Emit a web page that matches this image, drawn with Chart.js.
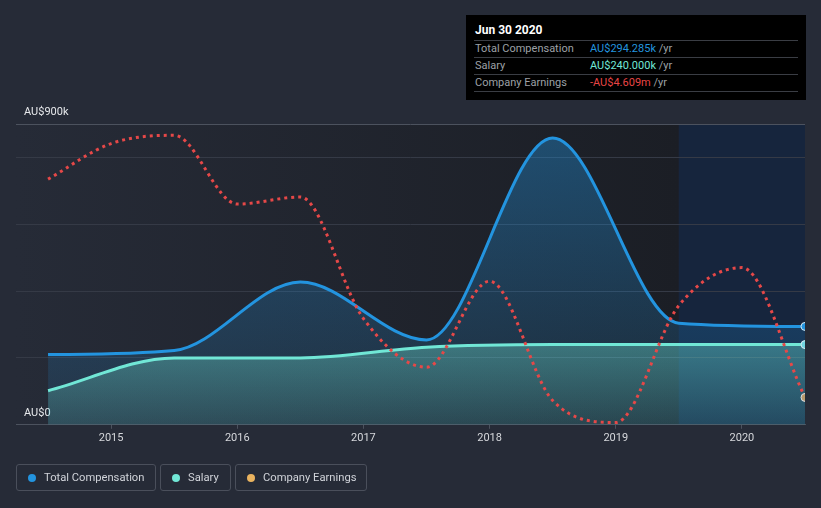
<!DOCTYPE html>
<html>
<head>
<meta charset="utf-8">
<script src="https://cdn.jsdelivr.net/npm/chart.js@4"></script>
<style>
  html, body { margin: 0; padding: 0; background: #262b37; }
  body { width: 821px; height: 508px; position: relative; overflow: hidden; font-family: Roboto, "Noto Sans", Arial, sans-serif; }
  #c { position: absolute; left: 0; top: 0; }
  .tip { position: absolute; left: 466px; top: 15px; width: 340px; height: 85px; background: #000; }
  .tip .title { position: absolute; left: 9px; top: 8px; font-size: 12px; font-weight: bold; color: #fff; }
  .tip .row { position: absolute; left: 8px; width: 324px; height: 17px; border-top: 1px solid #3a3d44; font-size: 11px; line-height: 16px; color: #9da0a6; }
  .tip .row .lab { position: absolute; left: 1px; }
  .tip .row .val { position: absolute; left: 116px; }
  .tip .last { position: absolute; left: 8px; width: 324px; top: 76px; border-top: 1px solid #3a3d44; }
  .legend { position: absolute; top: 464px; height: 27px; border: 1px solid #4a4f5b; border-radius: 3px; font-size: 11.2px; color: #d0d3d9; line-height: 25px; box-sizing: border-box; }
  .legend .dot { position: absolute; left: 11px; top: 9px; width: 8px; height: 8px; border-radius: 50%; }
  .legend .txt { position: absolute; left: 27px; top: 0; white-space: nowrap; }
</style>
</head>
<body>
<canvas id="c" width="821" height="508"></canvas>

<div class="tip">
  <div class="title">Jun 30 2020</div>
  <div class="row" style="top:25px"><span class="lab">Total Compensation</span><span class="val"><span style="color:#2394df">AU$294.285k</span> /yr</span></div>
  <div class="row" style="top:42px"><span class="lab">Salary</span><span class="val"><span style="color:#71e7d6">AU$240.000k</span> /yr</span></div>
  <div class="row" style="top:59px"><span class="lab">Company Earnings</span><span class="val"><span style="color:#e84545">-AU$4.609m</span> /yr</span></div>
  <div class="last"></div>
</div>

<div class="legend" style="left:16px;width:140px"><span class="dot" style="background:#2394df"></span><span class="txt">Total Compensation</span></div>
<div class="legend" style="left:160px;width:71px"><span class="dot" style="background:#71e7d6"></span><span class="txt">Salary</span></div>
<div class="legend" style="left:235px;width:132px"><span class="dot" style="background:#e9b35f"></span><span class="txt">Company Earnings</span></div>

<script>
// ---- data (AU$ thousands for compensation, AU$ millions for earnings) ----
const compYears = [2014.5, 2015.5, 2016.5, 2017.5, 2018.5, 2019.5, 2020.5];
const totalCompensation = [210, 222, 427, 254, 858, 304, 294.285];
const salary = [102, 200, 200, 232, 240, 240, 240];
const earningsYears = [2014.5, 2015.0, 2015.5, 2016.0, 2016.5, 2017.0, 2017.5, 2018.0, 2018.5, 2019.0, 2019.5, 2020.0, 2020.5];
const companyEarnings = [-0.93, -0.33, -0.19, -1.35, -1.23, -3.28, -4.10, -2.65, -4.66, -5.03, -3.06, -2.42, -4.609];
const xTickYears = [2015, 2016, 2017, 2018, 2019, 2020];
const yTickValues = [0, 200, 400, 600, 800, 900];
const yTickLabels = { 0: 'AU$0', 900: 'AU$900k' };

const toPts = (xs, ys) => xs.map((x, i) => ({ x: x, y: ys[i] }));

function vGrad(ctx, area, c1, c2, yTop) {
  const g = ctx.createLinearGradient(0, yTop, 0, area.bottom);
  g.addColorStop(0, c1);
  g.addColorStop(1, c2);
  return g;
}

const bgPlugin = {
  id: 'bg',
  beforeDraw(chart) {
    const { ctx, chartArea: a, scales } = chart;
    const xh = scales.x.getPixelForValue(2019.5);
    ctx.save();
    const g = ctx.createLinearGradient(a.left, 0, xh, 0);
    g.addColorStop(0, '#262b37');
    g.addColorStop(1, '#1b1e25');
    ctx.fillStyle = g;
    ctx.fillRect(a.left, a.top, xh - a.left, a.bottom - a.top);
    ctx.fillStyle = '#16253d';
    ctx.fillRect(xh, a.top, a.right - xh, a.bottom - a.top);
    ctx.restore();
  }
};

const lastR = (n) => (c) => (c.dataIndex === n - 1 ? 4 : 0);

new Chart(document.getElementById('c'), {
  type: 'line',
  data: {
    datasets: [
      {
        label: 'Company Earnings',
        data: toPts(earningsYears, companyEarnings),
        yAxisID: 'y2',
        borderColor: '#e64848',
        borderWidth: 3,
        borderDash: [3, 4],
        fill: false,
        cubicInterpolationMode: 'monotone',
        pointRadius: lastR(earningsYears.length),
        pointBackgroundColor: '#b89a6c',
        pointBorderColor: '#d8dde4',
        pointBorderWidth: 1,
        clip: 0,
        order: 0
      },
      {
        label: 'Salary',
        data: toPts(compYears, salary),
        yAxisID: 'y',
        borderColor: '#71e7d6',
        borderWidth: 3,
        fill: 'origin',
        backgroundColor: (c) => {
          const a = c.chart.chartArea;
          if (!a) return 'rgba(113,231,214,0.3)';
          return vGrad(c.chart.ctx, a, 'rgba(113,231,214,0.36)', 'rgba(113,231,214,0.14)', c.chart.scales.y.getPixelForValue(240));
        },
        cubicInterpolationMode: 'monotone',
        pointRadius: lastR(compYears.length),
        pointBackgroundColor: '#71d4e0',
        pointBorderColor: '#d8e8f0',
        pointBorderWidth: 1,
        clip: 0,
        order: 1
      },
      {
        label: 'Total Compensation',
        data: toPts(compYears, totalCompensation),
        yAxisID: 'y',
        borderColor: '#2394df',
        borderWidth: 3,
        fill: 'origin',
        backgroundColor: (c) => {
          const a = c.chart.chartArea;
          if (!a) return 'rgba(35,148,223,0.3)';
          return vGrad(c.chart.ctx, a, 'rgba(35,148,223,0.40)', 'rgba(35,148,223,0.10)', a.top);
        },
        cubicInterpolationMode: 'monotone',
        pointRadius: lastR(compYears.length),
        pointBackgroundColor: '#2394df',
        pointBorderColor: '#d8e8f0',
        pointBorderWidth: 1,
        clip: 0,
        order: 2
      }
    ]
  },
  options: {
    responsive: false,
    animation: false,
    events: [],
    layout: { padding: { left: 0, right: 16, top: 124, bottom: 60 } },
    plugins: { legend: { display: false }, tooltip: { enabled: false } },
    scales: {
      x: {
        type: 'linear',
        min: 2014.246,
        max: 2020.5,
        afterBuildTicks: (s) => { s.ticks = xTickYears.map(v => ({ value: v })); },
        ticks: {
          callback: (v) => String(v),
          color: '#d6d8dc',
          font: { family: 'Roboto', size: 11 },
          padding: 3,
          maxRotation: 0,
          autoSkip: false
        },
        grid: { display: true, drawOnChartArea: false, drawTicks: true, tickLength: 4, color: '#4c525e' },
        border: { display: true, color: '#4c525e', width: 1 }
      },
      y: {
        min: 0,
        max: 900,
        afterBuildTicks: (s) => { s.ticks = yTickValues.map(v => ({ value: v })); },
        ticks: {
          mirror: true,
          padding: 8,
          labelOffset: -12,
          callback: (v) => yTickLabels[v] || '',
          color: '#e6e8eb',
          font: { family: 'Roboto', size: 11 }
        },
        grid: {
          drawTicks: false,
          color: (c) => (c.tick && c.tick.value === 900 ? '#4c525e' : '#353a46'),
          lineWidth: 1
        },
        border: { display: false }
      },
      y2: {
        display: false,
        min: -5.07,
        max: 0
      }
    }
  },
  plugins: [bgPlugin]
});
</script>
</body>
</html>
